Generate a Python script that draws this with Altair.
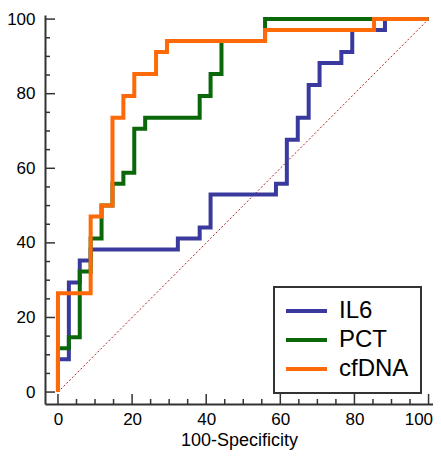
import altair as alt
import pandas as pd

# ---- data ----
series_names = ["IL6", "PCT", "cfDNA"]
series_colors = ["#3a3a9e", "#0a680a", "#ff6a08"]

il6_fpr = [0, 0, 2.94, 5.88, 8.82, 32.35, 38.24, 41.18, 58.82, 61.76, 64.71, 67.65, 70.59, 76.47, 79.41, 88.24, 100]
il6_tpr = [0, 8.82, 29.41, 35.29, 38.24, 41.18, 44.12, 52.94, 55.88, 67.65, 73.53, 82.35, 88.24, 91.18, 97.06, 100, 100]

pct_fpr = [0, 0, 2.94, 5.88, 8.82, 11.76, 14.71, 17.65, 20.59, 23.53, 38.24, 41.18, 44.12, 55.88, 100]
pct_tpr = [0, 11.76, 14.71, 32.35, 41.18, 50.0, 55.88, 58.82, 70.59, 73.53, 79.41, 85.29, 94.12, 100, 100]

cfdna_fpr = [0, 0, 8.82, 11.76, 14.71, 17.65, 20.59, 26.47, 29.41, 55.88, 85.29, 100]
cfdna_tpr = [0, 26.47, 47.06, 50.0, 73.53, 79.41, 85.29, 91.18, 94.12, 97.06, 100, 100]

diag_x = [0, 100]
diag_y = [0, 100]

major_ticks = [0, 20, 40, 60, 80, 100]
minor_ticks = [5, 10, 15, 25, 30, 35, 45, 50, 55, 65, 70, 75, 85, 90, 95]

# ---- build tables ----
rows = []
for name, xs, ys in [("IL6", il6_fpr, il6_tpr), ("PCT", pct_fpr, pct_tpr), ("cfDNA", cfdna_fpr, cfdna_tpr)]:
    for i, (xv, yv) in enumerate(zip(xs, ys)):
        rows.append({"series": name, "x": xv, "y": yv, "i": i})
roc = pd.DataFrame(rows)
diag = pd.DataFrame({"x": diag_x, "y": diag_y})
major_df = pd.DataFrame({"v": major_ticks})
minor_df = pd.DataFrame({"v": minor_ticks})

W, H = 388, 389
FONT = "Liberation Sans"
AX = "#333333"

xscale = alt.Scale(domain=[-3.5, 101.2], nice=False, zero=False, padding=0)
yscale = alt.Scale(domain=[-3.2, 101.1], nice=False, zero=False, padding=0)
cscale = alt.Scale(domain=series_names, range=series_colors)

x_axis = alt.Axis(values=major_ticks, ticks=False, grid=False,
                  domainColor=AX, domainWidth=2, labelFontSize=17, labelPadding=20,
                  labelBaseline="alphabetic", labelColor="black", labelFont=FONT,
                  labelFlush=6, labelFlushOffset=4,
                  title="100-Specificity", titleFontSize=18, titleFontWeight="normal",
                  titleBaseline="alphabetic", titleY=41, titleColor="black", titleFont=FONT)
y_axis = alt.Axis(values=major_ticks, ticks=False, grid=False,
                  domainColor=AX, domainWidth=2, labelFontSize=17, labelPadding=10,
                  labelColor="black", labelFont=FONT, title="")

legend = alt.Legend(orient="none", legendX=229, legendY=272, title=None,
                    symbolType="M-1.2,0H2.9", symbolSize=400, symbolStrokeWidth=4,
                    labelFontSize=24, labelFont=FONT, labelColor="black", labelOffset=29,
                    rowPadding=5, padding=12, strokeColor=AX, fillColor="white",
                    labelExpr="datum.label + ' '")


def X(field):
    return alt.X(field, scale=xscale, axis=x_axis)


def Y(field):
    return alt.Y(field, scale=yscale, axis=y_axis)


diag_line = alt.Chart(diag).mark_line(color="#b22222", strokeWidth=1, strokeDash=[2, 2]).encode(
    x=X("x:Q"), y=Y("y:Q"))

x_major = alt.Chart(major_df).mark_rule(color=AX, strokeWidth=1.5).encode(
    x=X("v:Q"), y=alt.value(H), y2=alt.value(H - 10))
x_minor = alt.Chart(minor_df).mark_rule(color=AX, strokeWidth=1.5).encode(
    x=X("v:Q"), y=alt.value(H), y2=alt.value(H - 5))
y_major = alt.Chart(major_df).mark_rule(color=AX, strokeWidth=1.5).encode(
    y=Y("v:Q"), x=alt.value(0), x2=alt.value(10))
y_minor = alt.Chart(minor_df).mark_rule(color=AX, strokeWidth=1.5).encode(
    y=Y("v:Q"), x=alt.value(0), x2=alt.value(5))

layers = [diag_line, x_major, x_minor, y_major, y_minor]
for name in series_names:
    layers.append(
        alt.Chart(roc[roc.series == name]).mark_line(
            interpolate="step-after", strokeWidth=4, strokeJoin="miter", strokeCap="butt"
        ).encode(
            x=X("x:Q"), y=Y("y:Q"),
            color=alt.Color("series:N", scale=cscale, legend=legend),
            order=alt.Order("i:Q"),
        )
    )

chart = alt.layer(*layers).properties(
    width=W, height=H,
    autosize=alt.AutoSizeParams(type="none"),
    padding={"left": 37, "top": 7, "right": 0, "bottom": 52},
).configure_view(strokeWidth=0).configure_legend(strokeWidth=2)

chart.save("out.html", embed_options={"renderer": "svg", "actions": False})
